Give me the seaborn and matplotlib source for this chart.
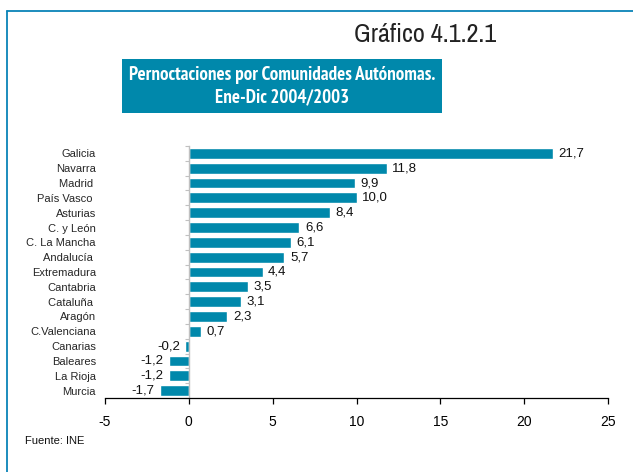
import matplotlib
matplotlib.use("Agg")
import matplotlib.pyplot as plt
import seaborn as sns
import pandas as pd
from matplotlib.patches import Rectangle
from matplotlib.lines import Line2D
from matplotlib.ticker import FixedLocator
from matplotlib import font_manager as fm

regions = ["Galicia", "Navarra", "Madrid ", "País Vasco ", "Asturias", "C. y León",
           "C. La Mancha", "Andalucía ", "Extremadura", "Cantabria", "Cataluña ",
           "Aragón", "C.Valenciana", "Canarias", "Baleares", "La Rioja", "Murcia"]
values = [21.7, 11.8, 9.9, 10.0, 8.4, 6.6, 6.1, 5.7, 4.4, 3.5, 3.1, 2.3, 0.7,
          -0.2, -1.2, -1.2, -1.7]
x_ticks = [-5, 0, 5, 10, 15, 20, 25]

title_text = "Pernoctaciones por Comunidades Autónomas.\nEne-Dic 2004/2003"
chart_id = "Gráfico 4.1.2.1"
source = "Fuente: INE"

sns.set_theme(style="white")
plt.rcParams['font.family'] = ['Liberation Sans', 'DejaVu Sans']


def pick_condensed(bold):
    best, best_rank = None, 99
    for f in fm.fontManager.ttflist:
        fn = f.fname.lower()
        nm = f.name.lower() + " " + fn
        if f.style != "normal" or "mono" in nm or "italic" in fn or "oblique" in fn:
            continue
        w = f.weight if isinstance(f.weight, int) else (700 if "bold" in str(f.weight) else 400)
        if bold and w < 600:
            continue
        if not bold and w >= 500:
            continue
        if "semi" in fn or "extra" in fn:
            continue
        if "liberationsansnarrow" in fn.replace(" ", "").replace("-", ""):
            rank = 0
        elif "narrow" in nm:
            rank = 1
        elif "condensed" in nm and "sans" in nm:
            rank = 2
        elif "condensed" in nm:
            rank = 3
        else:
            continue
        if rank < best_rank:
            best, best_rank = f.fname, rank
    return best


cond_bold = pick_condensed(True)
cond_reg = pick_condensed(False)

bar_color = "#0088AB"
frame_color = "#0A84B8"

df = pd.DataFrame({"region": regions, "value": values})

fig = plt.figure(figsize=(6.33, 4.72), dpi=100)
ax = fig.add_axes([105/633, 1-398/472, 503/633, 252/472])

sns.barplot(data=df, x="value", y="region", orient="h", color=bar_color,
            saturation=1, width=0.73, ax=ax)

ax.set_xlim(-5, 25)
ax.set_ylim(len(regions) - 0.5, -0.5)
ax.set_xticks(x_ticks)
ax.set_xticklabels([str(t) for t in x_ticks], fontsize=10)
ax.set_xlabel("")
ax.set_ylabel("")

for s in ["top", "right"]:
    ax.spines[s].set_visible(False)
ax.spines["left"].set_position(("data", 0))
ax.spines["left"].set_color("#c0c0c0")
ax.spines["left"].set_linewidth(1.0)
ax.spines["bottom"].set_color("black")
ax.spines["bottom"].set_linewidth(0.9)

ax.tick_params(axis="x", direction="out", length=4, width=0.9, color="black",
               pad=8, bottom=True, labelcolor="black")
ax.tick_params(axis="y", which="major", length=0, pad=67, labelsize=8)
for lbl in ax.get_yticklabels():
    lbl.set_horizontalalignment("right")
ax.yaxis.set_minor_locator(FixedLocator([i - 0.5 for i in range(len(regions) + 1)]))
ax.tick_params(axis="y", which="minor", direction="out", length=3, width=0.8,
               color="#c0c0c0", left=True)

for i, v in enumerate(values):
    txt = f"{v:.1f}".replace(".", ",")
    if v >= 0:
        ax.annotate(txt, (v, i), xytext=(4, 0), textcoords="offset points",
                    ha="left", va="center", fontsize=9.5, color="#111111")
    else:
        ax.annotate(txt, (v, i), xytext=(-4, 0), textcoords="offset points",
                    ha="right", va="center", fontsize=9.5, color="#111111")

# frame lines (left and top)
fig.add_artist(Line2D([6.5/633, 6.5/633], [0, 1-10.5/472], transform=fig.transFigure,
                      color=frame_color, lw=1.3))
fig.add_artist(Line2D([6.5/633, 1], [1-10.5/472, 1-10.5/472], transform=fig.transFigure,
                      color=frame_color, lw=1.3))

# chart id
if cond_reg:
    t_id = fig.text(496/633, 1-34/472, chart_id, ha="right", va="center",
                    color="#222222", fontproperties=fm.FontProperties(fname=cond_reg, size=17))
else:
    t_id = fig.text(496/633, 1-34/472, chart_id, ha="right", va="center", fontsize=15.5,
                    color="#222222")

# title box
fig.add_artist(Rectangle((122/633, 1-113/472), (442-122)/633, (113-59)/472,
                         transform=fig.transFigure, facecolor=bar_color,
                         edgecolor="none"))
if cond_bold:
    t_title = fig.text(282/633, 1-86/472, title_text, ha="center", va="center",
                       color="white", linespacing=1.35,
                       fontproperties=fm.FontProperties(fname=cond_bold, size=12))
else:
    t_title = fig.text(282/633, 1-86/472, title_text, ha="center", va="center",
                       fontsize=9.6, color="white", fontweight="bold", linespacing=1.6)

fig.text(25/633, 1-441/472, source, ha="left", va="center", fontsize=8,
         color="#111111")

# fit text widths to the reference layout
renderer = fig.canvas.get_renderer()
for t, target in ((t_title, 306.0), (t_id, 142.0)):
    for _ in range(3):
        w = t.get_window_extent(renderer).width
        if w > 0:
            t.set_fontsize(t.get_fontsize() * target / w)
if t_title.get_fontsize() < 11:
    t_title.set_linespacing(1.35 * 12 / t_title.get_fontsize())

fig.savefig("out.png", dpi=100)
